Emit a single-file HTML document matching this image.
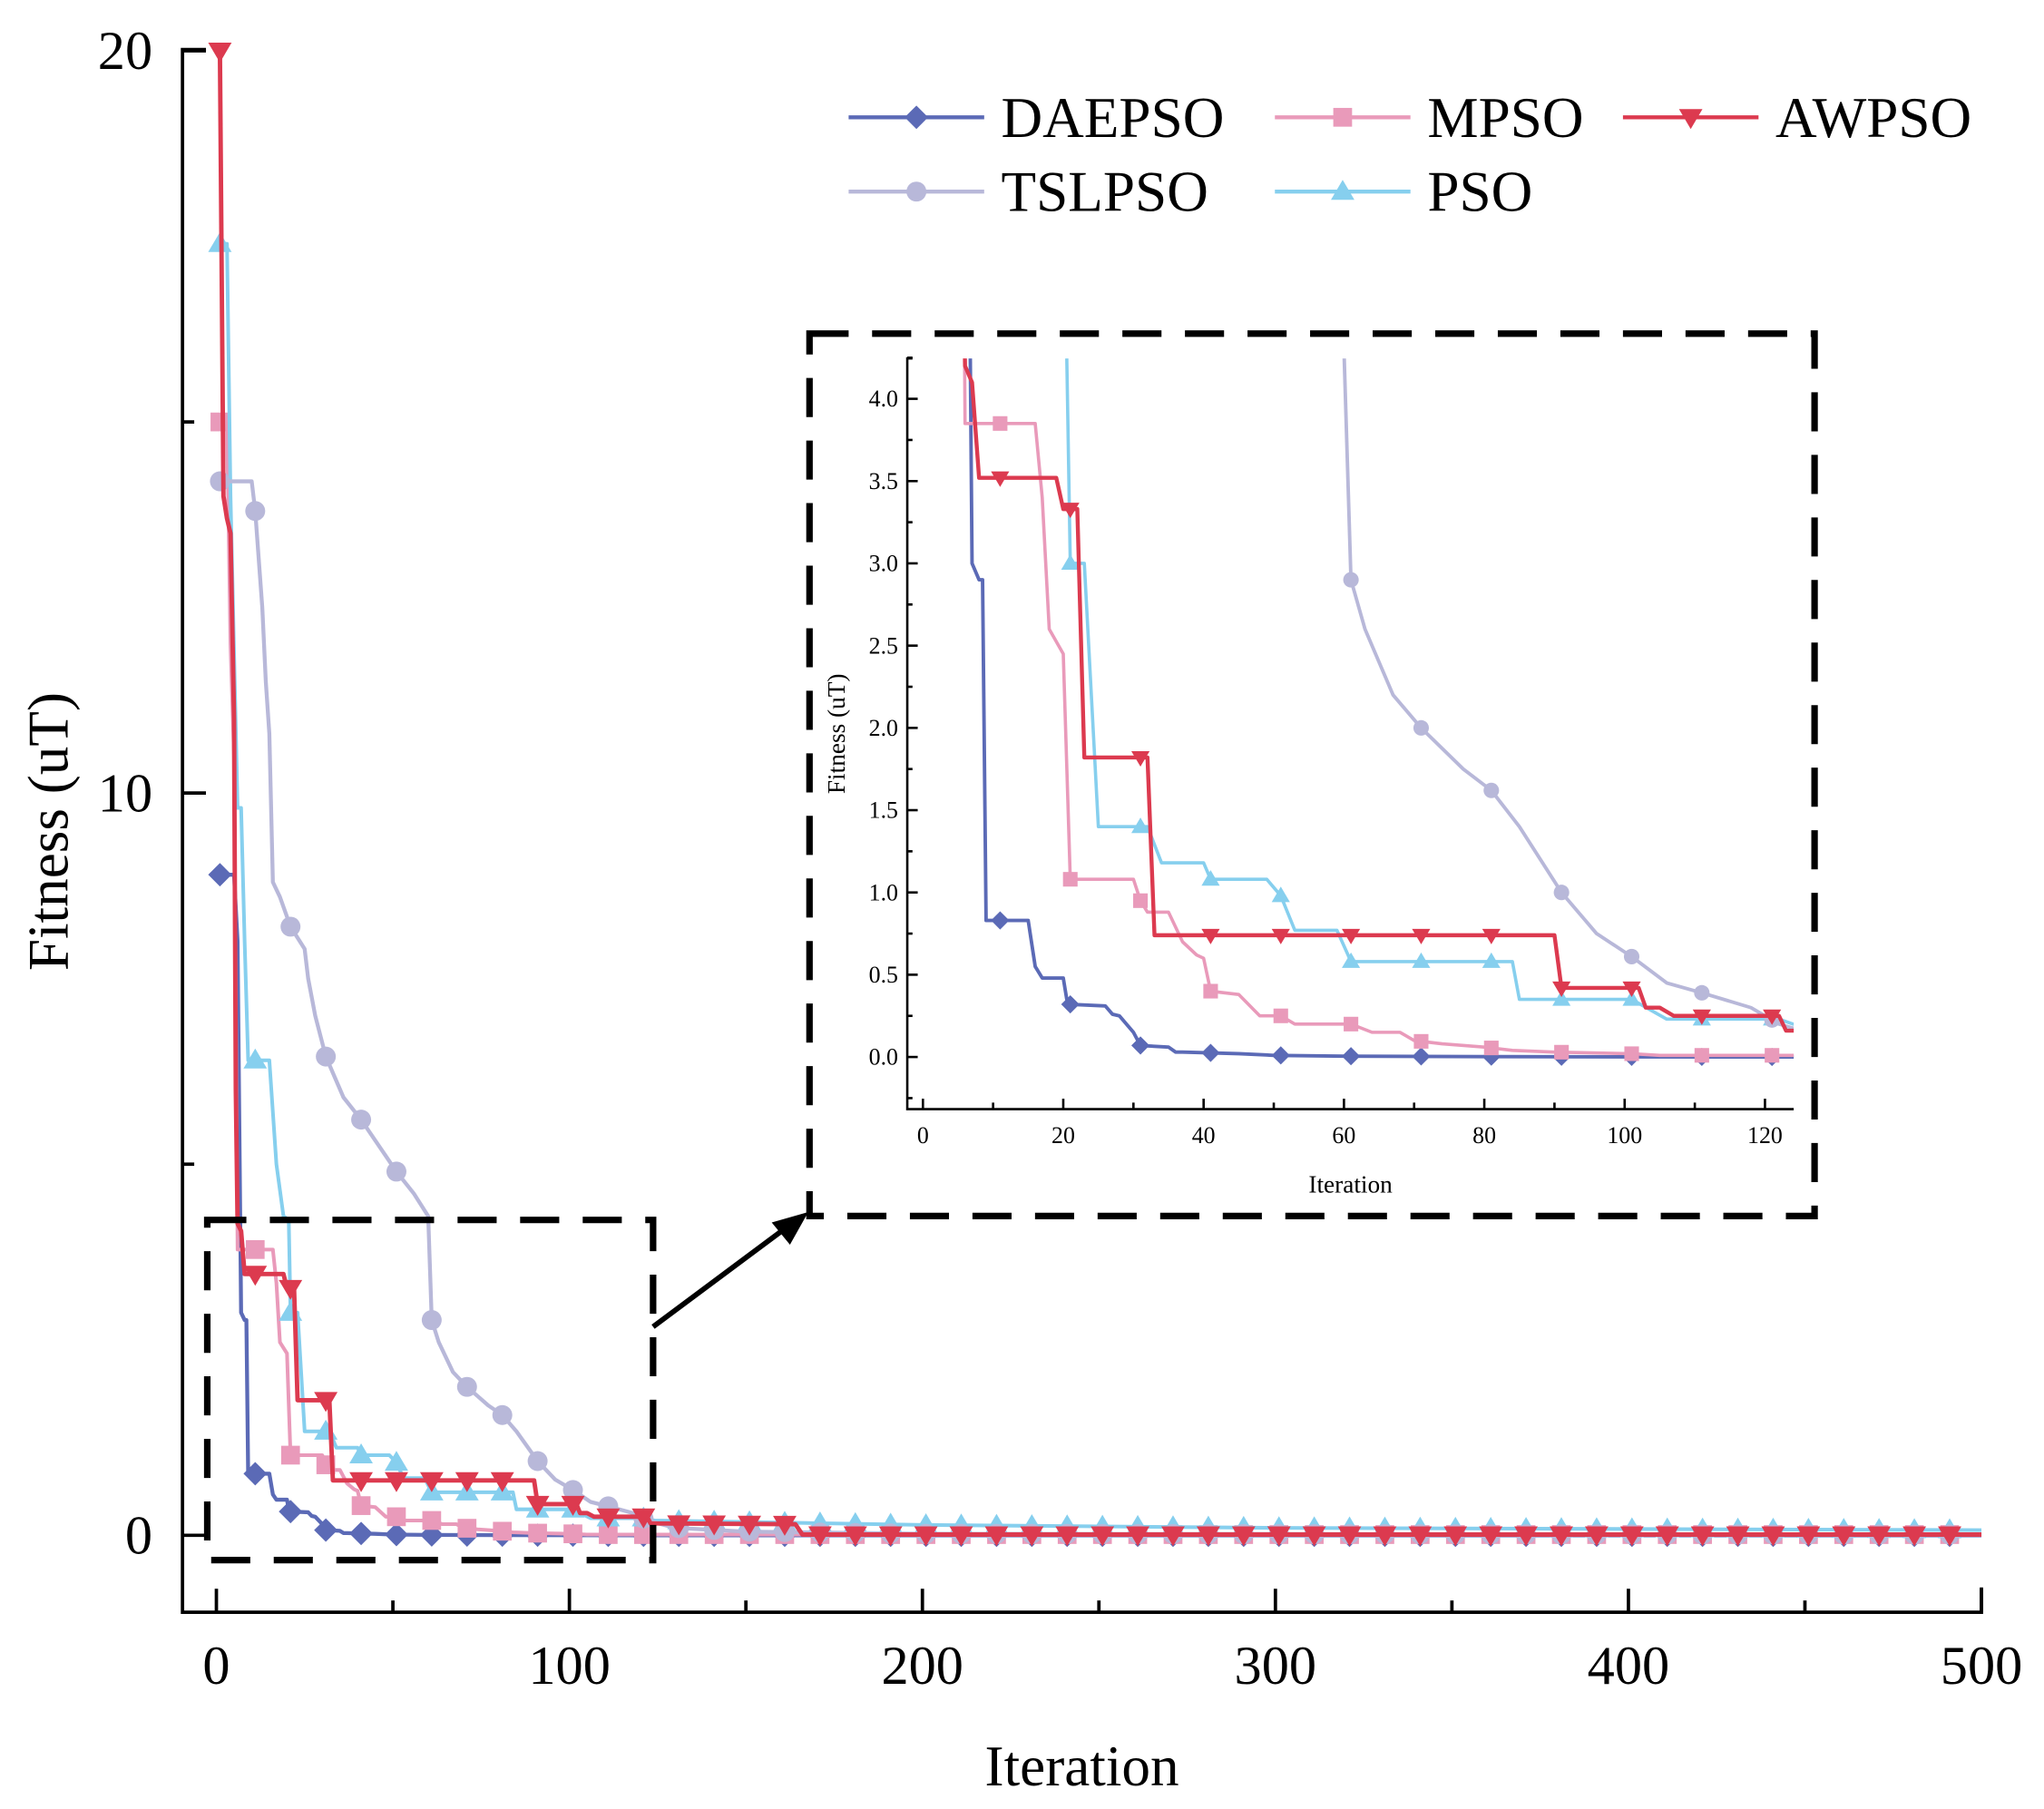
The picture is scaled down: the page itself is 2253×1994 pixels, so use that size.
<!DOCTYPE html>
<html><head><meta charset="utf-8">
<style>
html,body{margin:0;padding:0;background:#fff;}
svg{display:block;font-family:"Liberation Serif",serif;}
</style></head>
<body>
<svg id="chart" width="2253" height="1994" viewBox="0 0 1568 1388" preserveAspectRatio="none" xmlns="http://www.w3.org/2000/svg">
<rect width="1568" height="1388" fill="#fff"/>
<g id="main"></g>
<g id="inset"></g>
<g id="legend"></g>
</svg>
<script>
const seriesNames = ["DAEPSO","MPSO","AWPSO","TSLPSO","PSO"];
const daepsoIts = [1,5,6,7,8,8.5,9,15,16,17,20,20.5,21,26,27,28,30,31,35,36,37,45,50,60,80,120,500];
const daepsoVals = [8.9,8.9,8.0,3.0,2.9,2.9,0.83,0.83,0.55,0.48,0.48,0.35,0.32,0.31,0.26,0.25,0.15,0.07,0.06,0.03,0.03,0.02,0.01,0.005,0.002,0,0];
const mpsoIts = [1,3,4,5,6,16,17,18,20,21,30,31,32,35,37,39,40,41,45,48,51,53,61,64,68,70,74,80,84,90,101,105,500];
const mpsoVals = [15,15,12,10.5,3.85,3.85,3.4,2.6,2.45,1.08,1.08,0.95,0.88,0.88,0.7,0.62,0.6,0.4,0.38,0.25,0.25,0.2,0.2,0.15,0.15,0.1,0.08,0.06,0.04,0.03,0.02,0.01,0.01];
const awpsoIts = [1,2,3,4,5,5.5,6,7,8,19,20,22,23,32,33,90,91,102,103,105,107,122,123,164,166,500];
const awpsoVals = [20,14,13.7,13.5,11,6,4.2,4.1,3.52,3.52,3.33,3.33,1.82,1.82,0.74,0.74,0.42,0.42,0.3,0.3,0.25,0.25,0.16,0.15,0.01,0.01];
const tslpsoIts = [1,10,11,13,14,15,16,18,21,25,26,28,31,36,41,46,51,56,60,61,63,67,71,77,81,85,91,96,101,106,111,118,122,130,150,200,500];
const tslpsoVals = [14.2,14.2,13.8,12.5,11.5,10.8,8.8,8.6,8.2,7.9,7.5,7.0,6.45,5.9,5.6,5.25,4.9,4.6,4.3,2.9,2.6,2.2,2.0,1.75,1.62,1.4,1.0,0.75,0.61,0.45,0.39,0.3,0.2,0.1,0.05,0.02,0.01];
const psoIts = [1,3,4,6,7,8,9,15,17,19,20.5,21,23,25,32,34,40,41,49,51,53,59,61,84,85,101,106,122,124,200,300,500];
const psoVals = [17.4,17.4,14,9.8,9.8,8,6.4,6.4,5,4.3,4.25,3.0,3.0,1.4,1.4,1.18,1.18,1.08,1.08,0.98,0.77,0.77,0.58,0.58,0.35,0.35,0.23,0.23,0.2,0.14,0.1,0.07];
const mainXTicks = [0,100,200,300,400,500];
const mainYTicks = [0,10,20];
const insetXTicks = [0,20,40,60,80,100,120];
const insetYTicks = [0,0.5,1,1.5,2,2.5,3,3.5,4];

const NS="http://www.w3.org/2000/svg";
function mk(parent,tag,attrs,text){const e=document.createElementNS(NS,tag);for(const k in attrs)e.setAttribute(k,attrs[k]);if(text!==undefined)e.textContent=text;parent.appendChild(e);return e;}
const S=[
 {its:daepsoIts,vals:daepsoVals,color:"#5b6ab6",marker:"diamond",w:3,name:"daepso"},
 {its:mpsoIts,vals:mpsoVals,color:"#e99aba",marker:"square",w:2.8,name:"mpso"},
 {its:psoIts,vals:psoVals,color:"#86cfee",marker:"tri-up",w:2.8,name:"pso"},
 {its:tslpsoIts,vals:tslpsoVals,color:"#b8b8d9",marker:"circle",w:3,name:"tslpso"},
 {its:awpsoIts,vals:awpsoVals,color:"#dc3a4f",marker:"tri-down",w:3.4,name:"awpso"}
];
function interp(its,vals,x){if(x<=its[0])return vals[0];for(let i=1;i<its.length;i++){if(x<=its[i]){const t=(x-its[i-1])/(its[i]-its[i-1]||1);return vals[i-1]+t*(vals[i]-vals[i-1]);}}return vals[vals.length-1];}
function marker(g,type,x,y,r,color){
 let e;
 if(type==="diamond")e=mk(g,"polygon",{points:`${x},${y-r} ${x+r},${y} ${x},${y+r} ${x-r},${y}`,fill:color});
 else if(type==="square")e=mk(g,"rect",{x:x-r*0.8,y:y-r*0.8,width:r*1.6,height:r*1.6,fill:color});
 else if(type==="circle")e=mk(g,"circle",{cx:x,cy:y,r:r*0.85,fill:color});
 else if(type==="tri-up")e=mk(g,"polygon",{points:`${x},${y-r} ${x+r},${y+r*0.7} ${x-r},${y+r*0.7}`,fill:color});
 else e=mk(g,"polygon",{points:`${x},${y+r} ${x+r},${y-r*0.7} ${x-r},${y-r*0.7}`,fill:color});
 return e;
}
const mx=i=>166+i*2.708, my=v=>1178-v*56.95;
const main=document.getElementById("main");
const clipM=mk(main,"clipPath",{id:"cm"});mk(clipM,"rect",{x:140,y:30,width:1382,height:1207});
const plotM=mk(main,"g",{"clip-path":"url(#cm)"});
S.forEach(s=>{
 const g=mk(plotM,"g",{});
 
 
 const pts=s.its.map((t,k)=>mx(t)+","+my(s.vals[k])).join(" ");
 mk(g,"polyline",{points:pts,fill:"none",stroke:s.color,"stroke-width":s.w,"stroke-linejoin":"round"});
 for(let it=1;it<=500;it+=10){const m=marker(g,s.marker,mx(it),my(interp(s.its,s.vals,it)),9,s.color);
  
  }
});
const axM=mk(main,"g",{fill:"none",stroke:"#000","stroke-width":2.6});


mk(axM,"polyline",{points:"158,38 140,38 140,1237 1520,1237 1520,1218"});
mainXTicks.forEach(t=>{mk(axM,"line",{x1:mx(t),y1:1237,x2:mx(t),y2:1219});
 const l=mk(main,"text",{x:mx(t),y:1292,"font-size":42,"text-anchor":"middle"},String(t));
 
 });
[50,150,250,350,450].forEach(t=>mk(axM,"line",{x1:mx(t),y1:1237,x2:mx(t),y2:1228}));
mainYTicks.forEach(t=>{mk(axM,"line",{x1:140,y1:my(t),x2:158,y2:my(t)});
 const l=mk(main,"text",{x:117,y:my(t)+14,"font-size":42,"text-anchor":"end"},String(t));
 
 });
[5,15].forEach(t=>mk(axM,"line",{x1:140,y1:my(t),x2:149,y2:my(t)}));
const xt=mk(main,"text",{x:830,y:1370,"font-size":44,"text-anchor":"middle"},"Iteration");


const yt=mk(main,"text",{x:0,y:0,"font-size":44,"text-anchor":"middle",transform:"translate(52,638) rotate(-90)"},"Fitness (uT)");


const zb=mk(main,"g",{fill:"none",stroke:"#000","stroke-width":5,"stroke-dasharray":"30,18"});


mk(zb,"rect",{x:159,y:936,width:342,height:261});
const ib=mk(main,"g",{fill:"none",stroke:"#000","stroke-width":5,"stroke-dasharray":"30,18"});


mk(ib,"rect",{x:621,y:256,width:771,height:677});
const ar=mk(main,"g",{});


mk(ar,"line",{x1:501,y1:1018,x2:603,y2:942,stroke:"#000","stroke-width":4});
mk(ar,"polygon",{points:"620,930 592,938 606,955",fill:"#000"});
const ix=i=>708+i*5.383, iy=v=>811-v*126.25;
const ins=document.getElementById("inset");
const clipI=mk(ins,"clipPath",{id:"ci"});mk(clipI,"rect",{x:697,y:275,width:679,height:575});
const plotI=mk(ins,"g",{"clip-path":"url(#ci)"});
S.forEach(s=>{
 const g=mk(plotI,"g",{});
 
 
 const pts=s.its.map((t,k)=>ix(t)+","+iy(s.vals[k])).join(" ");
 mk(g,"polyline",{points:pts,fill:"none",stroke:s.color,"stroke-width":s.w*0.9,"stroke-linejoin":"round"});
 for(let it=11;it<=121;it+=10){const v=interp(s.its,s.vals,it);if(v>4.25)continue;
  const m=marker(g,s.marker,ix(it),iy(v),7,s.color);
  
  }
});
const axI=mk(ins,"g",{fill:"none",stroke:"#000","stroke-width":1.8});


mk(axI,"polyline",{points:"700,275 696,275 696,851 1376,851"});
insetXTicks.forEach(t=>{mk(axI,"line",{x1:ix(t),y1:851,x2:ix(t),y2:843});
 const l=mk(ins,"text",{x:ix(t),y:877,"font-size":18,"text-anchor":"middle"},String(t));
 
 });
for(let t=10;t<=120;t+=20)mk(axI,"line",{x1:ix(t),y1:851,x2:ix(t),y2:846});
insetYTicks.forEach(t=>{mk(axI,"line",{x1:696,y1:iy(t),x2:704,y2:iy(t)});
 const l=mk(ins,"text",{x:689,y:iy(t)+6,"font-size":18,"text-anchor":"end"},t.toFixed(1));
 
 });
for(let t=-0.25;t<=4.25;t+=0.5)mk(axI,"line",{x1:696,y1:iy(t),x2:700,y2:iy(t)});
const ixt=mk(ins,"text",{x:1036,y:915,"font-size":19,"text-anchor":"middle"},"Iteration");


const iyt=mk(ins,"text",{x:0,y:0,"font-size":19,"text-anchor":"middle",transform:"translate(648,563) rotate(-90)"},"Fitness (uT)");


const leg=document.getElementById("legend");
const L=[
 {n:"DAEPSO",c:"#5b6ab6",m:"diamond",x:651,y:90},
 {n:"MPSO",c:"#e99aba",m:"square",x:978,y:90},
 {n:"AWPSO",c:"#dc3a4f",m:"tri-down",x:1245,y:90},
 {n:"TSLPSO",c:"#b8b8d9",m:"circle",x:651,y:147},
 {n:"PSO",c:"#86cfee",m:"tri-up",x:978,y:147}
];
L.forEach(e=>{
 const g=mk(leg,"g",{});
 
 
 mk(g,"line",{x1:e.x,y1:e.y,x2:e.x+104,y2:e.y,stroke:e.c,"stroke-width":3});
 marker(g,e.m,e.x+52,e.y,9,e.c);
 mk(g,"text",{x:e.x+117,y:e.y+15,"font-size":44},e.n);
});
</script>
</body></html>
